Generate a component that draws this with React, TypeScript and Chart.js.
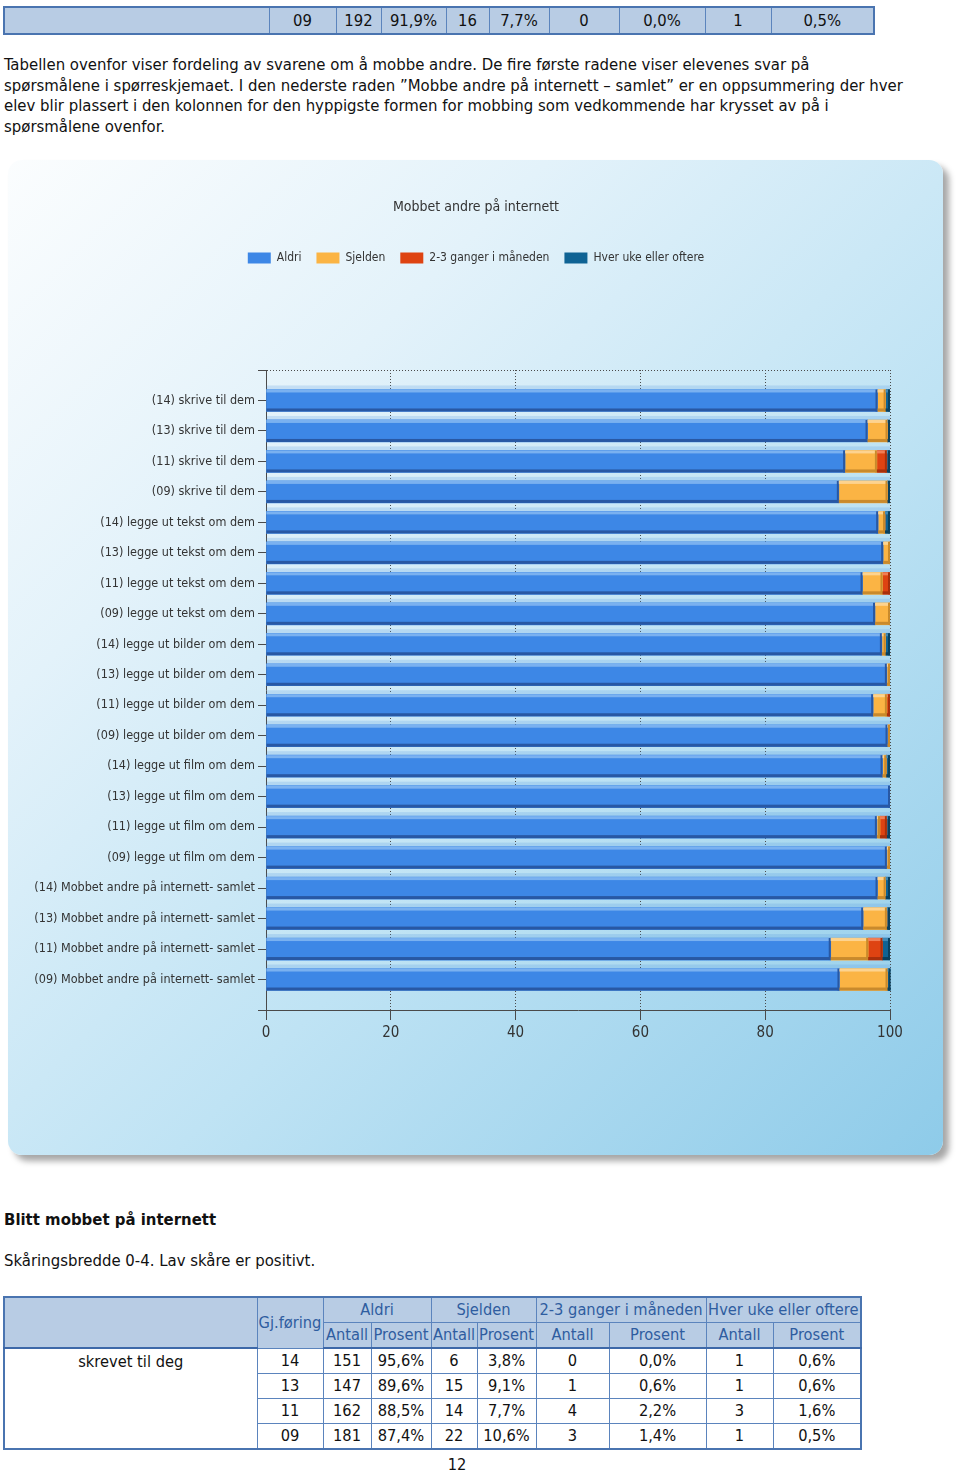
import React, { useEffect, useRef } from "react";
import { Chart, registerables } from "chart.js";

Chart.register(...registerables);

// ---------- data ----------
const categories = [
  "(14) skrive til dem",
  "(13) skrive til dem",
  "(11) skrive til dem",
  "(09) skrive til dem",
  "(14) legge ut tekst om dem",
  "(13) legge ut tekst om dem",
  "(11) legge ut tekst om dem",
  "(09) legge ut tekst om dem",
  "(14) legge ut bilder om dem",
  "(13) legge ut bilder om dem",
  "(11) legge ut bilder om dem",
  "(09) legge ut bilder om dem",
  "(14) legge ut film om dem",
  "(13) legge ut film om dem",
  "(11) legge ut film om dem",
  "(09) legge ut film om dem",
  "(14) Mobbet andre på internett- samlet",
  "(13) Mobbet andre på internett- samlet",
  "(11) Mobbet andre på internett- samlet",
  "(09) Mobbet andre på internett- samlet",
];
const aldri = [98.0, 96.4, 92.8, 91.8, 98.1, 98.9, 95.6, 97.6, 98.7, 99.5, 97.3, 99.6, 98.8, 100, 97.9, 99.5, 98.0, 95.7, 90.5, 91.9];
const sjelden = [1.3, 3.2, 5.1, 7.8, 1.1, 1.1, 3.2, 2.4, 0.6, 0.5, 2.2, 0.4, 0.6, 0, 0.5, 0.5, 1.3, 3.8, 6.0, 7.7];
const gangerIMaaneden = [0, 0, 1.6, 0, 0, 0, 1.2, 0, 0, 0, 0.5, 0, 0, 0, 1.1, 0, 0, 0, 2.3, 0];
const hverUke = [0.7, 0.4, 0.5, 0.4, 0.8, 0, 0, 0, 0.7, 0, 0, 0, 0.6, 0, 0.5, 0, 0.7, 0.5, 1.2, 0.5];
const seriesNames = ["Aldri", "Sjelden", "2-3 ganger i måneden", "Hver uke eller oftere"];
const chartTitle = "Mobbet andre på internett";

const topRow = ["", "09", "192", "91,9%", "16", "7,7%", "0", "0,0%", "1", "0,5%"];
const paragraphLines = [
  "Tabellen ovenfor viser fordeling av svarene om å mobbe andre. De fire første radene viser elevenes svar på",
  "spørsmålene i spørreskjemaet. I den nederste raden ”Mobbe andre på internett – samlet” er en oppsummering der hver",
  "elev blir plassert i den kolonnen for den hyppigste formen for mobbing som vedkommende har krysset av på i",
  "spørsmålene ovenfor.",
];
const heading = "Blitt mobbet på internett";
const subText = "Skåringsbredde 0-4. Lav skåre er positivt.";
const tableGroups = ["Aldri", "Sjelden", "2-3 ganger i måneden", "Hver uke eller oftere"];
const tableSub = ["Antall", "Prosent"];
const rowLabel = "skrevet til deg";
const tableRows = [
  ["14", "151", "95,6%", "6", "3,8%", "0", "0,0%", "1", "0,6%"],
  ["13", "147", "89,6%", "15", "9,1%", "1", "0,6%", "1", "0,6%"],
  ["11", "162", "88,5%", "14", "7,7%", "4", "2,2%", "3", "1,6%"],
  ["09", "181", "87,4%", "22", "10,6%", "3", "1,4%", "1", "0,5%"],
];
const pageNumber = "12";

// ---------- styles ----------
const FONT = '"DejaVu Sans Condensed", "DejaVu Sans", sans-serif';
const faceColors = ["#3d87e6", "#fbb444", "#de4312", "#0f6394"];
const lightColors = ["#7ab1f0", "#fdd38f", "#f07e55", "#3f89b6"];
const darkColors = ["#2858a4", "#c98a2c", "#a8300c", "#09405f"];
const axisColor = "#4a4a4a";

const bevelPlugin = {
  id: "bevel",
  afterLayout(chart: any) {
    // let the long category labels use the left padding area (avoid clipping)
    const y = chart.scales.y;
    if (y) y.left = 0;
  },
  afterDatasetsDraw(chart: any) {
    const ctx = chart.ctx;
    chart.data.datasets.forEach((_ds: any, di: number) => {
      const meta = chart.getDatasetMeta(di);
      meta.data.forEach((el: any) => {
        const { x, y, base, height } = el.getProps(["x", "y", "base", "height"], true);
        const left = Math.min(x, base);
        const right = Math.max(x, base);
        const w = right - left;
        if (w < 0.5) return;
        const top = y - height / 2;
        const bottom = y + height / 2;
        ctx.save();
        ctx.fillStyle = "rgba(80,150,225,0.22)";
        ctx.fillRect(left, top - 4, w, 4);
        ctx.fillStyle = lightColors[di];
        ctx.fillRect(left, top, w, 3);
        ctx.fillStyle = darkColors[di];
        ctx.fillRect(left, bottom - 3, w, 3);
        ctx.fillRect(Math.max(left, right - 2), top, Math.min(2, w), height);
        ctx.restore();
      });
    });
  },
};

function BarChart() {
  const ref = useRef<HTMLCanvasElement | null>(null);
  useEffect(() => {
    if (!ref.current) return;
    const series = [aldri, sjelden, gangerIMaaneden, hverUke];
    const chart = new Chart(ref.current, {
      type: "bar",
      data: {
        datasets: series.map((vals, si) => ({
          label: seriesNames[si],
          data: vals.map((v, i) => ({ x: v, y: i })),
          backgroundColor: faceColors[si],
          borderWidth: 0,
          barThickness: 22,
        })),
      },
      options: {
        indexAxis: "y",
        responsive: false,
        animation: false,
        devicePixelRatio: 1,
        layout: { padding: { top: 38.6, right: 53, bottom: 105, left: 54 } },
        scales: {
          x: {
            type: "linear",
            stacked: true,
            min: 0,
            max: 100,
            afterFit: (s: any) => { s.height = 40; },
            ticks: { stepSize: 20, color: "#333", font: { family: FONT, size: 15 }, padding: 4 },
            grid: { color: axisColor, tickLength: 10, tickColor: axisColor, tickBorderDash: [] },
            border: { color: axisColor, dash: [1, 2], width: 1 },
          },
          y: {
            type: "linear",
            stacked: true,
            reverse: true,
            offset: false,
            min: -1,
            max: 20,
            afterFit: (s: any) => { s.width = 204; },
            ticks: {
              stepSize: 1,
              autoSkip: false,
              padding: 3,
              color: "#333",
              font: { family: FONT, size: 12.5 },
              callback: (v: any) => (Number.isInteger(v) && v >= 0 && v < categories.length ? categories[v] : ""),
            },
            grid: {
              offset: false,
              color: (c: any) => (c.tick && c.tick.value === -1 ? axisColor : "rgba(0,0,0,0)"),
              tickColor: axisColor,
              tickLength: 8,
              tickBorderDash: [],
            },
            border: { color: axisColor, dash: [1, 2], width: 1 },
          },
        },
        plugins: {
          title: {
            display: true,
            text: chartTitle,
            color: "#333",
            font: { family: FONT, size: 14, weight: "normal" },
            padding: { top: 0, bottom: 21.6 },
          },
          subtitle: {
            display: true,
            text: " ",
            weight: 500,
            font: { family: FONT, size: 12 },
            padding: { top: 0, bottom: 81.6 },
          },
          legend: {
            display: true,
            position: "top",
            labels: {
              boxWidth: 23,
              boxHeight: 11,
              padding: 15,
              color: "#333",
              font: { family: FONT, size: 12 },
            },
          },
          tooltip: { enabled: false },
        },
      } as any,
      plugins: [bevelPlugin],
    });
    return () => chart.destroy();
  }, []);
  return <canvas ref={ref} width={935} height={995} style={{ position: "absolute", left: 8, top: 160, width: 935, height: 995 }} />;
}

const cellBorder = "1px solid #5b84bd";

export default function App() {
  const topWidths = [265, 67, 45, 65, 43, 60, 70, 86, 66, 103];
  const tblWidths = [253, 66, 48, 60, 46, 59, 73, 97, 67, 88];
  const base: React.CSSProperties = { fontFamily: FONT, fontStretch: "condensed", color: "#111" };
  return (
    <div style={{ position: "absolute", left: 0, top: 0, width: 960, height: 1474, background: "#fff", overflow: "hidden", ...base }}>
      {/* top table row */}
      <table style={{ position: "absolute", left: 3, top: 6, borderCollapse: "collapse", tableLayout: "fixed", width: 870, fontSize: 16.5, border: "2px solid #4a74b0" }}>
        <colgroup>{topWidths.map((w, i) => <col key={i} style={{ width: w }} />)}</colgroup>
        <tbody>
          <tr style={{ height: 25 }}>
            {topRow.map((t, i) => (
              <td key={i} style={{ border: cellBorder, background: "#b8cce4", textAlign: "center", padding: 0, lineHeight: "25px" }}>{t}</td>
            ))}
          </tr>
        </tbody>
      </table>

      {/* paragraph */}
      <div style={{ position: "absolute", left: 4, top: 55, fontSize: 16.6, lineHeight: "20.7px", whiteSpace: "nowrap" }}>
        {paragraphLines.map((l, i) => <div key={i}>{l}</div>)}
      </div>

      {/* chart panel */}
      <div style={{ position: "absolute", left: 8, top: 160, width: 935, height: 995, borderRadius: 14, background: "linear-gradient(135deg, #fbfdfe 0%, #e3f2fa 28%, #bfe3f4 60%, #8ecbe9 100%)", boxShadow: "6px 6px 6px rgba(0,0,0,0.35)" }} />
      <BarChart />

      {/* heading */}
      <div style={{ position: "absolute", left: 4, top: 1209, fontSize: 16.6, fontWeight: "bold", lineHeight: "22px" }}>{heading}</div>
      <div style={{ position: "absolute", left: 4, top: 1250, fontSize: 16.6, lineHeight: "22px" }}>{subText}</div>

      {/* bottom table */}
      <table style={{ position: "absolute", left: 3, top: 1296, borderCollapse: "collapse", tableLayout: "fixed", width: 857, fontSize: 16.3, border: "2px solid #4a74b0" }}>
        <colgroup>{tblWidths.map((w, i) => <col key={i} style={{ width: w }} />)}</colgroup>
        <thead>
          <tr style={{ height: 25 }}>
            <td rowSpan={2} style={{ border: cellBorder, background: "#b8cce4", padding: 0 }} />
            <td rowSpan={2} style={{ border: cellBorder, background: "#b8cce4", padding: 0, color: "#2f5da0", textAlign: "center" }}>Gj.føring</td>
            {tableGroups.map((g, i) => (
              <td key={i} colSpan={2} style={{ border: cellBorder, background: "#b8cce4", padding: 0, color: "#2f5da0", textAlign: "center", whiteSpace: "nowrap", lineHeight: "24px" }}>{g}</td>
            ))}
          </tr>
          <tr style={{ height: 25 }}>
            {tableGroups.map((g, i) =>
              tableSub.map((s, j) => (
                <td key={i + "-" + j} style={{ border: cellBorder, borderBottom: "2px solid #3d68a8", background: "#b8cce4", padding: 0, color: "#2f5da0", textAlign: "center", lineHeight: "24px" }}>{s}</td>
              ))
            )}
          </tr>
        </thead>
        <tbody>
          {tableRows.map((r, ri) => (
            <tr key={ri} style={{ height: 25 }}>
              {ri === 0 && (
                <td rowSpan={tableRows.length} style={{ border: cellBorder, borderTop: "2px solid #3d68a8", verticalAlign: "top", textAlign: "center", padding: 0, lineHeight: "25px" }}>{rowLabel}</td>
              )}
              {r.map((c, ci) => (
                <td key={ci} style={{ border: cellBorder, textAlign: "center", padding: 0, lineHeight: "24px" }}>{c}</td>
              ))}
            </tr>
          ))}
        </tbody>
      </table>

      <div style={{ position: "absolute", left: 0, width: 914, top: 1454, fontSize: 16.3, lineHeight: "22px", textAlign: "center" }}>{pageNumber}</div>
    </div>
  );
}
